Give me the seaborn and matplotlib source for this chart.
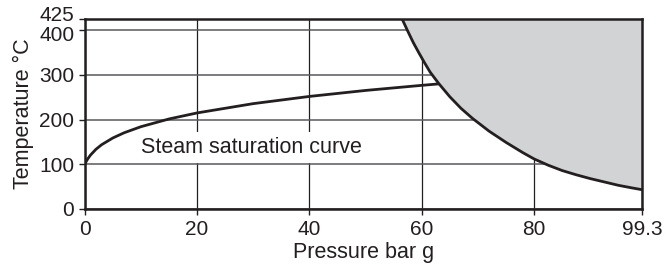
import matplotlib
matplotlib.use('Agg')
import matplotlib.pyplot as plt
import matplotlib.transforms as mtransforms
import seaborn as sns
import pandas as pd

# steam saturation curve (bar g -> deg C)
sat_pressure = [0, 0.2, 0.5, 1, 2, 3, 5, 7, 10, 15, 20, 30, 40, 50, 60, 63]
sat_temp = [100, 105.0, 111.6, 120.4, 133.7, 143.8, 158.9, 170.5, 184.1, 201.4, 214.9, 235.7, 251.8, 265.2, 276.6, 279.8]

# boundary of the shaded region
limit_pressure = [56.5, 57.5, 58.5, 59.5, 60.5, 61.5, 63, 65, 67, 69, 72, 75, 78, 80,
                  82.5, 85, 87.5, 90, 92.5, 95, 97.5, 99.3]
limit_temp = [425, 398, 372, 349, 327, 306, 281, 251, 225, 203, 174, 149, 126, 112,
              98, 86, 76.5, 68, 60.5, 53, 47, 43]

x_ticks = [0, 20, 40, 60, 80, 99.3]
x_tick_labels = ['0', '20', '40', '60', '80', '99.3']
y_ticks = [0, 100, 200, 300, 400, 425]
y_tick_labels = ['0', '100', '200', '300', '400', '425']
x_max = 99.3
y_max = 425

ink = '#231f20'
shade = '#d1d3d4'

sns.set_style('white')
plt.rcParams['font.family'] = ['Liberation Sans', 'DejaVu Sans']

fig, ax = plt.subplots(figsize=(6.66, 2.71), dpi=100)
fig.subplots_adjust(left=0.1273, right=0.9647, bottom=0.2288, top=0.9299)

sat = pd.DataFrame({'pressure': sat_pressure, 'temp': sat_temp})
limit = pd.DataFrame({'pressure': limit_pressure, 'temp': limit_temp})

# shaded area above the limit curve
ax.fill_between(limit['pressure'], limit['temp'], y_max, color=shade, lw=0, zorder=1)
sns.lineplot(data=limit, x='pressure', y='temp', color=ink, lw=2, sort=False, ax=ax, zorder=3)
sns.lineplot(data=sat, x='pressure', y='temp', color=ink, lw=2, sort=False, ax=ax, zorder=3)

ax.text(10, 125, 'Steam saturation curve', fontsize=15.5, color=ink, va='baseline', ha='left',
        bbox=dict(boxstyle='square,pad=0.25', fc='white', ec='none'), zorder=2)

ax.set_xlim(0, x_max)
ax.set_ylim(0, y_max)
ax.set_xticks(x_ticks, x_tick_labels)
ax.set_yticks(y_ticks, y_tick_labels)

ax.set_axisbelow(True)
ax.xaxis.grid(True, color=ink, lw=0.9)
ax.yaxis.grid(True, color='#58595b', lw=1.1)

for side in ['left', 'bottom', 'top', 'right']:
    ax.spines[side].set_visible(True)
    ax.spines[side].set_color(ink)
    ax.spines[side].set_linewidth(1.8)

ax.tick_params(axis='both', bottom=True, left=True, direction='out', length=4.5, width=1,
               color=ink, labelcolor=ink, labelsize=15)
ax.tick_params(axis='x', pad=3.5)
ax.tick_params(axis='y', pad=3)

ax.set_xlabel('Pressure bar g', fontsize=15.5, color=ink, labelpad=2)
ax.set_ylabel('Temperature °C', fontsize=15.5, color=ink, labelpad=4)

# nudge the crowded 400 / 425 labels apart
yt = ax.yaxis.get_major_ticks()
for tick, dy in [(yt[4], -3), (yt[5], 5)]:
    lab = tick.label1
    lab.set_transform(lab.get_transform() + mtransforms.ScaledTranslation(0, dy / 100, fig.dpi_scale_trans))

fig.savefig('out.png', dpi=100)
